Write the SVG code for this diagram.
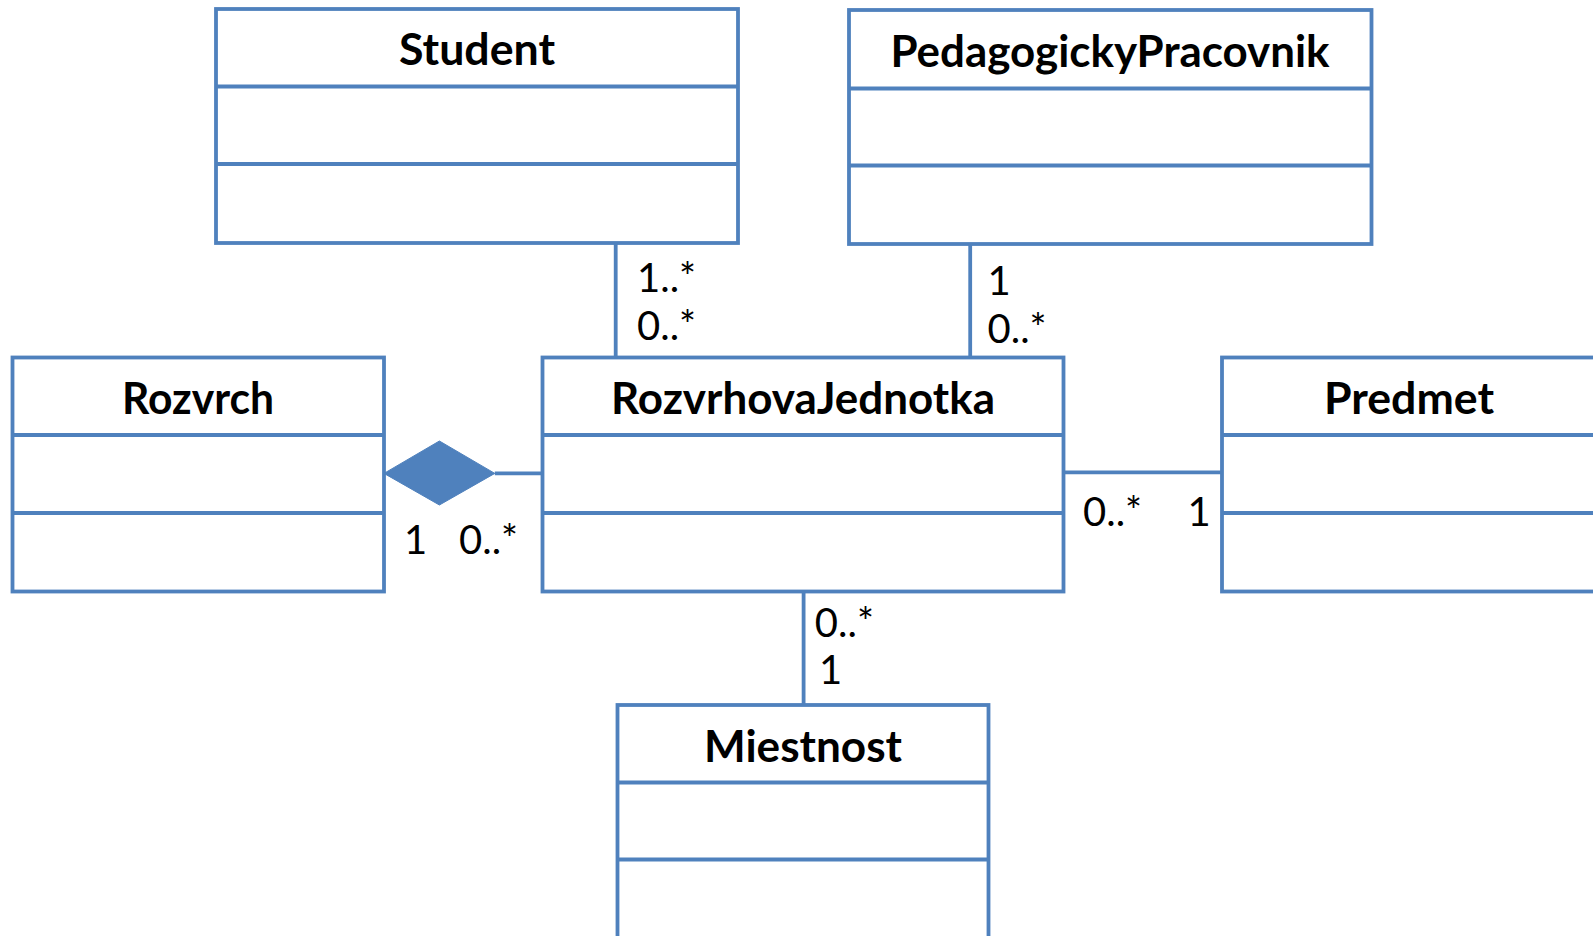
<svg xmlns="http://www.w3.org/2000/svg" width="1593" height="936" viewBox="0 0 1593 936">
<style>
.box{fill:#fff;stroke:#4F81BD;stroke-width:3.8}
.sep{stroke:#4F81BD;stroke-width:3.8}
.conn{stroke:#4F81BD;stroke-width:3.8;fill:none}
.title{font-family:Lato,"Liberation Sans",sans-serif;font-weight:bold;font-size:43px;fill:#000;text-anchor:middle}
.mult{font-family:Lato,"Liberation Sans",sans-serif;font-size:40px;fill:#000}
</style>
<rect width="1593" height="936" fill="#fff"/>
<g id="Student">
<rect class="box" x="216" y="9" width="522" height="234"/>
<line class="sep" x1="216" y1="86.5" x2="738" y2="86.5"/>
<line class="sep" x1="216" y1="164" x2="738" y2="164"/>
<text class="title" x="477" y="65" textLength="156" lengthAdjust="spacingAndGlyphs">Student</text>
</g>
<g id="PedagogickyPracovnik">
<rect class="box" x="849" y="10" width="522.5" height="234"/>
<line class="sep" x1="849" y1="88.5" x2="1371.5" y2="88.5"/>
<line class="sep" x1="849" y1="165.5" x2="1371.5" y2="165.5"/>
<text class="title" x="1110" y="67" textLength="439" lengthAdjust="spacingAndGlyphs">PedagogickyPracovnik</text>
</g>
<g id="Rozvrch">
<rect class="box" x="12.5" y="357.5" width="371.5" height="234"/>
<line class="sep" x1="12.5" y1="435" x2="384" y2="435"/>
<line class="sep" x1="12.5" y1="513" x2="384" y2="513"/>
<text class="title" x="198" y="414" textLength="152" lengthAdjust="spacingAndGlyphs">Rozvrch</text>
</g>
<g id="RozvrhovaJednotka">
<rect class="box" x="542.5" y="357.5" width="521" height="234"/>
<line class="sep" x1="542.5" y1="435" x2="1063.5" y2="435"/>
<line class="sep" x1="542.5" y1="513" x2="1063.5" y2="513"/>
<text class="title" x="803" y="414" textLength="384" lengthAdjust="spacingAndGlyphs">RozvrhovaJednotka</text>
</g>
<g id="Predmet">
<rect class="box" x="1222" y="357.5" width="400" height="234"/>
<line class="sep" x1="1222" y1="435" x2="1622" y2="435"/>
<line class="sep" x1="1222" y1="513" x2="1622" y2="513"/>
<text class="title" x="1409" y="414" textLength="170" lengthAdjust="spacingAndGlyphs">Predmet</text>
</g>
<g id="Miestnost">
<rect class="box" x="617.5" y="705" width="371" height="260"/>
<line class="sep" x1="617.5" y1="782.5" x2="988.5" y2="782.5"/>
<line class="sep" x1="617.5" y1="859.5" x2="988.5" y2="859.5"/>
<text class="title" x="803" y="762" textLength="198" lengthAdjust="spacingAndGlyphs">Miestnost</text>
</g>
<g id="connectors">
<line class="conn" x1="615.7" y1="243" x2="615.7" y2="357.5"/>
<line class="conn" x1="970.2" y1="244" x2="970.2" y2="357.5"/>
<polygon points="384,473.4 439.4,441 494.8,473.4 439.4,505" fill="#4F81BD" stroke="#4F81BD" stroke-width="1"/>
<line class="conn" x1="494.8" y1="473.4" x2="542.5" y2="473.4"/>
<line class="conn" x1="1063.5" y1="472.4" x2="1222" y2="472.4"/>
<line class="conn" x1="803.6" y1="591.5" x2="803.6" y2="705"/>
</g>
<g id="labels">
<text class="mult" x="637" y="291.6">1..*</text>
<text class="mult" x="637" y="340">0..*</text>
<text class="mult" x="987.5" y="294.6">1</text>
<text class="mult" x="987.5" y="343.4">0..*</text>
<text class="mult" x="404" y="553.7">1</text>
<text class="mult" x="459" y="553.7">0..*</text>
<text class="mult" x="1083" y="526">0..*</text>
<text class="mult" x="1187.6" y="526">1</text>
<text class="mult" x="814.8" y="637">0..*</text>
<text class="mult" x="819" y="683.7">1</text>
</g>
</svg>
